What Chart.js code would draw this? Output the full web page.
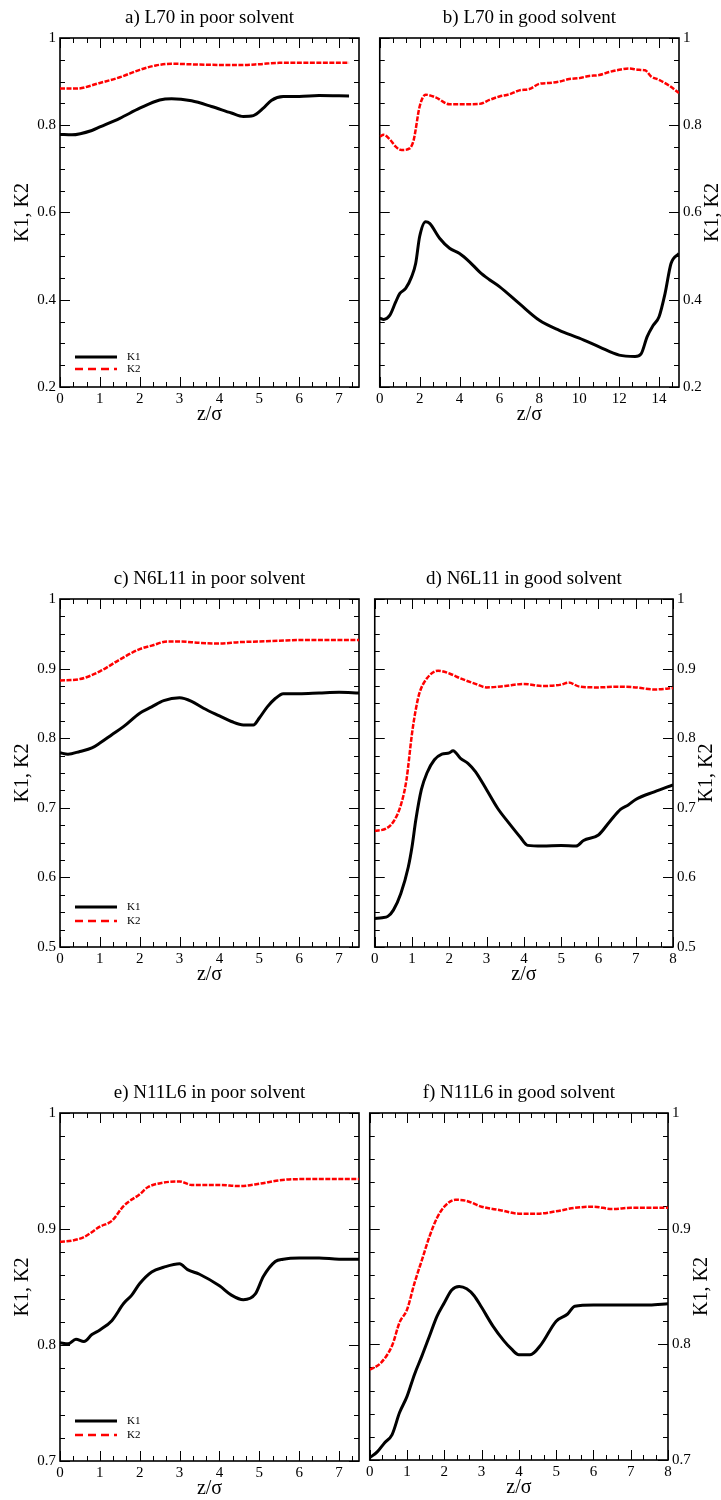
<!DOCTYPE html>
<html>
<head>
<meta charset="utf-8">
<title>K1, K2 profiles</title>
<script src="https://cdn.jsdelivr.net/npm/chart.js@4.4.1/dist/chart.umd.min.js"></script>
<style>
    body { margin: 0; background: #fff; }
    #page { position: relative; width: 721px; height: 1500px; overflow: hidden; }
    #page canvas { position: absolute; }
</style>
</head>
<body>
<div id="page"></div>
<script>
// a) L70 in poor solvent
const aZ1 = [0, 0.3, 0.8, 1, 1.5, 2, 2.5, 2.8, 3.3, 3.8, 4.3, 4.6, 4.85, 5.1, 5.3, 5.6, 6, 6.5, 7.25];
const aK1 = [0.779, 0.778, 0.788, 0.796, 0.816, 0.839, 0.858, 0.861, 0.856, 0.843, 0.828, 0.820, 0.822, 0.839, 0.857, 0.866, 0.866, 0.868, 0.867];
const aZ2 = [0, 0.4, 1, 1.5, 2, 2.4, 2.8, 3.5, 4.5, 5, 5.5, 6.5, 7.25];
const aK2 = [0.884, 0.884, 0.897, 0.910, 0.927, 0.937, 0.941, 0.939, 0.938, 0.940, 0.943, 0.943, 0.943];

// b) L70 in good solvent
const bZ1 = [0, 0.2, 0.5, 0.8, 1, 1.3, 1.6, 1.8, 2, 2.3, 2.5, 3, 3.5, 4, 4.5, 5, 5.5, 6, 7, 8, 9, 10, 11, 12, 12.8, 13.1, 13.4, 13.7, 14, 14.3, 14.6, 15];
const bK1 = [0.358, 0.355, 0.364, 0.395, 0.414, 0.426, 0.453, 0.483, 0.545, 0.579, 0.575, 0.541, 0.518, 0.506, 0.487, 0.464, 0.446, 0.430, 0.391, 0.353, 0.330, 0.312, 0.292, 0.273, 0.270, 0.276, 0.315, 0.341, 0.361, 0.414, 0.483, 0.506];
const bZ2 = [0, 0.2, 0.5, 0.8, 1.1, 1.5, 1.7, 2, 2.3, 2.8, 3.5, 4, 5, 5.5, 6, 6.5, 7, 7.5, 8, 8.5, 9, 9.5, 10, 10.5, 11, 11.5, 12, 12.5, 13, 13.3, 13.6, 14, 14.5, 15];
const bK2 = [0.774, 0.778, 0.768, 0.751, 0.743, 0.747, 0.766, 0.843, 0.870, 0.864, 0.848, 0.848, 0.849, 0.858, 0.866, 0.871, 0.880, 0.883, 0.895, 0.897, 0.900, 0.906, 0.908, 0.913, 0.915, 0.922, 0.927, 0.930, 0.927, 0.926, 0.912, 0.904, 0.891, 0.874];

// c) N6L11 in poor solvent
const cZ1 = [0, 0.2, 0.5, 0.8, 1, 1.3, 1.6, 2, 2.3, 2.6, 3, 3.3, 3.6, 4, 4.3, 4.6, 4.85, 5, 5.2, 5.4, 5.6, 6, 6.5, 7, 7.5];
const cK1 = [0.779, 0.777, 0.781, 0.786, 0.793, 0.805, 0.817, 0.836, 0.845, 0.854, 0.858, 0.853, 0.843, 0.832, 0.824, 0.819, 0.819, 0.829, 0.845, 0.857, 0.864, 0.864, 0.865, 0.866, 0.865];
const cZ2 = [0, 0.5, 1, 1.5, 2, 2.3, 2.7, 3, 3.5, 4, 4.5, 5, 5.5, 6, 6.5, 7, 7.5];
const cK2 = [0.883, 0.885, 0.896, 0.913, 0.928, 0.933, 0.939, 0.939, 0.937, 0.936, 0.938, 0.939, 0.940, 0.941, 0.941, 0.941, 0.941];

// d) N6L11 in good solvent
const dZ1 = [0, 0.2, 0.35, 0.5, 0.7, 0.9, 1, 1.1, 1.25, 1.4, 1.6, 1.8, 2, 2.1, 2.3, 2.5, 2.7, 3, 3.3, 3.6, 3.9, 4.1, 4.5, 5, 5.4, 5.6, 6, 6.3, 6.6, 6.8, 7, 7.5, 8];
const dK1 = [0.541, 0.542, 0.544, 0.553, 0.577, 0.615, 0.644, 0.682, 0.726, 0.750, 0.769, 0.777, 0.779, 0.782, 0.771, 0.764, 0.752, 0.726, 0.699, 0.678, 0.658, 0.646, 0.645, 0.646, 0.645, 0.653, 0.661, 0.680, 0.698, 0.704, 0.712, 0.723, 0.733];
const dZ2 = [0, 0.3, 0.5, 0.7, 0.85, 1, 1.1, 1.2, 1.4, 1.7, 2, 2.3, 2.7, 3, 3.5, 4, 4.5, 5, 5.2, 5.5, 6, 6.5, 7, 7.5, 8];
const dK2 = [0.667, 0.670, 0.680, 0.704, 0.740, 0.807, 0.841, 0.865, 0.886, 0.897, 0.893, 0.886, 0.878, 0.873, 0.875, 0.878, 0.875, 0.877, 0.880, 0.874, 0.873, 0.874, 0.873, 0.870, 0.872];

// e) N11L6 in poor solvent
const eZ1 = [0, 0.2, 0.4, 0.6, 0.8, 1, 1.3, 1.6, 1.8, 2, 2.3, 2.6, 3, 3.2, 3.5, 4, 4.3, 4.6, 4.9, 5.1, 5.4, 5.6, 6, 6.5, 7, 7.5];
const eK1 = [0.802, 0.801, 0.805, 0.803, 0.809, 0.813, 0.821, 0.836, 0.843, 0.853, 0.863, 0.867, 0.870, 0.865, 0.861, 0.851, 0.843, 0.839, 0.844, 0.859, 0.872, 0.874, 0.875, 0.875, 0.874, 0.874];
const eZ2 = [0, 0.3, 0.6, 1, 1.3, 1.6, 2, 2.2, 2.6, 3, 3.3, 4, 4.5, 5, 5.5, 6, 6.5, 7, 7.5];
const eK2 = [0.889, 0.890, 0.893, 0.902, 0.907, 0.920, 0.930, 0.936, 0.940, 0.941, 0.938, 0.938, 0.937, 0.939, 0.942, 0.943, 0.943, 0.943, 0.943];

// f) N11L6 in good solvent
const fZ1 = [0, 0.2, 0.4, 0.6, 0.8, 1, 1.2, 1.4, 1.6, 1.8, 2, 2.2, 2.4, 2.6, 2.8, 3, 3.3, 3.6, 3.8, 4, 4.3, 4.6, 5, 5.3, 5.5, 6, 6.5, 7, 7.5, 8];
const fK1 = [0.702, 0.707, 0.715, 0.722, 0.741, 0.755, 0.774, 0.790, 0.807, 0.824, 0.836, 0.847, 0.850, 0.848, 0.842, 0.832, 0.816, 0.803, 0.796, 0.791, 0.791, 0.800, 0.820, 0.826, 0.833, 0.834, 0.834, 0.834, 0.834, 0.835];
const fZ2 = [0, 0.3, 0.6, 0.8, 1, 1.2, 1.4, 1.6, 1.8, 2, 2.3, 2.6, 3, 3.5, 4, 4.5, 5, 5.5, 6, 6.5, 7, 7.5, 8];
const fK2 = [0.778, 0.784, 0.799, 0.819, 0.830, 0.853, 0.873, 0.893, 0.909, 0.919, 0.925, 0.924, 0.919, 0.916, 0.913, 0.913, 0.915, 0.918, 0.919, 0.917, 0.918, 0.918, 0.918];

const seriesNames = ['K1', 'K2'];
const yTitle = 'K1, K2';
const xTitle = 'z/\u03c3';

// box = [left, top, right, bottom] of the plot frame on the page
const panels = [
    { title: 'a) L70 in poor solvent', z1: aZ1, k1: aK1, z2: aZ2, k2: aK2, side: 'left',
      box: [60, 38, 359, 387], xMax: 7.5, xStep: 1, yMin: 0.2, yStep: 0.2, yMinor: 0.05, legend: [30, 18] },
    { title: 'b) L70 in good solvent', z1: bZ1, k1: bK1, z2: bZ2, k2: bK2, side: 'right',
      box: [379, 38, 679, 387], xMax: 15, xStep: 2, yMin: 0.2, yStep: 0.2, yMinor: 0.05 },
    { title: 'c) N6L11 in poor solvent', z1: cZ1, k1: cK1, z2: cZ2, k2: cK2, side: 'left',
      box: [60, 599, 359, 947], xMax: 7.5, xStep: 1, yMin: 0.5, yStep: 0.1, yMinor: 0.025, legend: [40, 26] },
    { title: 'd) N6L11 in good solvent', z1: dZ1, k1: dK1, z2: dZ2, k2: dK2, side: 'right',
      box: [374, 599, 673, 947], xMax: 8, xStep: 1, yMin: 0.5, yStep: 0.1, yMinor: 0.025 },
    { title: 'e) N11L6 in poor solvent', z1: eZ1, k1: eK1, z2: eZ2, k2: eK2, side: 'left',
      box: [60, 1113, 359, 1461], xMax: 7.5, xStep: 1, yMin: 0.7, yStep: 0.1, yMinor: 0.02, legend: [40, 26] },
    { title: 'f) N11L6 in good solvent', z1: fZ1, k1: fK1, z2: fZ2, k2: fK2, side: 'right',
      box: [369, 1113, 668, 1460], xMax: 8, xStep: 1, yMin: 0.7, yStep: 0.1, yMinor: 0.02 },
];

Chart.defaults.font.family = '"Liberation Serif", "Times New Roman", serif';
Chart.defaults.color = '#000';

// xmgrace style frame: inward ticks on all four sides
const frameTicks = {
    id: 'frameTicks',
    beforeDatasetsDraw(chart, args, opts) {
        const {ctx, chartArea: a, scales: {x, y}} = chart;
        ctx.save();
        ctx.strokeStyle = '#000';
        ctx.lineWidth = 1;
        ctx.beginPath();
        const xMinor = opts.xStep / 3;
        const nx = Math.floor((x.max - x.min) / xMinor + 1e-6);
        for (let i = 0; i <= nx; i++) {
            const px = Math.round(x.getPixelForValue(x.min + i * xMinor)) + 0.5;
            const len = i % 3 === 0 ? 10 : 5;
            ctx.moveTo(px, a.bottom); ctx.lineTo(px, a.bottom - len);
            ctx.moveTo(px, a.top); ctx.lineTo(px, a.top + len);
        }
        const every = Math.round(opts.yStep / opts.yMinor);
        const ny = Math.round((y.max - y.min) / opts.yMinor);
        for (let i = 0; i <= ny; i++) {
            const py = Math.round(y.getPixelForValue(y.min + i * opts.yMinor)) + 0.5;
            const len = i % every === 0 ? 10 : 5;
            ctx.moveTo(a.left, py); ctx.lineTo(a.left + len, py);
            ctx.moveTo(a.right, py); ctx.lineTo(a.right - len, py);
        }
        ctx.stroke();
        ctx.lineWidth = 1.6;
        ctx.strokeRect(a.left, a.top, a.right - a.left, a.bottom - a.top);
        ctx.restore();
    }
};

// small legend inside the lower left corner
const cornerLegend = {
    id: 'cornerLegend',
    afterDatasetsDraw(chart, args, opts) {
        if (!opts.rows) return;
        const {ctx, chartArea: a} = chart;
        ctx.save();
        chart.data.datasets.forEach((ds, i) => {
            const yy = a.bottom - opts.rows[i];
            ctx.strokeStyle = ds.borderColor;
            ctx.lineWidth = ds.borderWidth;
            ctx.setLineDash(i === 0 ? [] : [8, 5]);
            ctx.beginPath();
            ctx.moveTo(a.left + 15, yy);
            ctx.lineTo(a.left + 57, yy);
            ctx.stroke();
            ctx.setLineDash([]);
            ctx.fillStyle = '#000';
            ctx.font = '11px "Liberation Serif", serif';
            ctx.textBaseline = 'middle';
            ctx.fillText(ds.label, a.left + 67, yy);
        });
        ctx.restore();
    }
};

// axis title on the right side, reading upwards like the left one
const rightTitle = {
    id: 'rightTitle',
    afterDraw(chart, args, opts) {
        if (!opts.text) return;
        const {ctx, chartArea: a} = chart;
        ctx.save();
        ctx.translate(a.right + 34, (a.top + a.bottom) / 2);
        ctx.rotate(-Math.PI / 2);
        ctx.font = '20px "Liberation Serif", serif';
        ctx.fillStyle = '#000';
        ctx.textAlign = 'center';
        ctx.textBaseline = 'middle';
        ctx.fillText(opts.text, 0, 0);
        ctx.restore();
    }
};

const page = document.getElementById('page');

panels.forEach(p => {
    const [bl, bt, br, bb] = p.box;
    const isLeft = p.side === 'left';
    const canvasLeft = isLeft ? 0 : bl - 6;
    const canvasTop = bt - 38;
    const width = isLeft ? br + 1 : 721 - canvasLeft;
    const height = (bb - bt) + 38 + 43;
    const axisWidth = isLeft ? bl : 721 - br;

    const canvas = document.createElement('canvas');
    canvas.width = width;
    canvas.height = height;
    canvas.style.left = canvasLeft + 'px';
    canvas.style.top = canvasTop + 'px';
    canvas.style.width = width + 'px';
    canvas.style.height = height + 'px';
    page.appendChild(canvas);

    new Chart(canvas.getContext('2d'), {
        type: 'line',
        data: {
            datasets: [{
                label: seriesNames[0],
                data: p.z1.map((z, i) => ({x: z, y: p.k1[i]})),
                borderColor: '#000000',
                borderWidth: 3,
                pointRadius: 0,
                cubicInterpolationMode: 'monotone'
            }, {
                label: seriesNames[1],
                data: p.z2.map((z, i) => ({x: z, y: p.k2[i]})),
                borderColor: '#ff0000',
                borderWidth: 2.5,
                borderDash: [5, 1.5],
                pointRadius: 0,
                cubicInterpolationMode: 'monotone'
            }]
        },
        options: {
            responsive: false,
            animation: false,
            devicePixelRatio: 1,
            layout: {
                padding: { left: isLeft ? 0 : 6, right: isLeft ? 1 : 0, top: 0, bottom: 0 }
            },
            scales: {
                x: {
                    type: 'linear',
                    min: 0,
                    max: p.xMax,
                    grid: { display: false, drawTicks: false },
                    border: { display: false },
                    ticks: {
                        stepSize: p.xStep,
                        includeBounds: false,
                        autoSkip: false,
                        maxRotation: 0,
                        padding: 3,
                        font: { size: 15 },
                        callback: v => String(+v.toFixed(2))
                    },
                    title: {
                        display: true,
                        text: xTitle,
                        font: { size: 20 },
                        padding: { top: 0, bottom: 3 }
                    },
                    afterFit: s => { s.height = 43; }
                },
                y: {
                    position: p.side,
                    min: p.yMin,
                    max: 1,
                    grid: { display: false, drawTicks: false },
                    border: { display: false },
                    ticks: {
                        stepSize: p.yStep,
                        autoSkip: false,
                        padding: 4,
                        font: { size: 15 },
                        callback: v => String(+v.toFixed(2))
                    },
                    title: {
                        display: isLeft,
                        text: yTitle,
                        font: { size: 20 },
                        padding: { top: 11, bottom: 0 }
                    },
                    afterFit: s => { s.width = axisWidth; }
                }
            },
            plugins: {
                legend: { display: false },
                tooltip: { enabled: false },
                title: {
                    display: true,
                    text: p.title,
                    fullSize: false,
                    font: { size: 19, weight: 'normal' },
                    padding: { top: 6.6, bottom: 8.6 }
                },
                frameTicks: { xStep: p.xStep, yStep: p.yStep, yMinor: p.yMinor },
                cornerLegend: { rows: p.legend },
                rightTitle: { text: isLeft ? '' : yTitle }
            }
        },
        plugins: [frameTicks, cornerLegend, rightTitle]
    });
});
</script>
</body>
</html>
